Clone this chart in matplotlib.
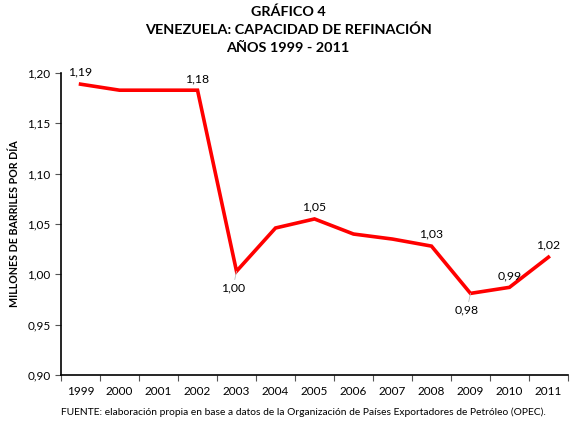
import matplotlib.pyplot as plt

plt.rcParams['font.family'] = ['Lato', 'DejaVu Sans']

anios = ['1999', '2000', '2001', '2002', '2003', '2004', '2005',
         '2006', '2007', '2008', '2009', '2010', '2011']
capacidad = [1.189, 1.183, 1.183, 1.183, 1.003, 1.046, 1.055,
             1.040, 1.035, 1.028, 0.981, 0.987, 1.017]
# etiquetas visibles: indice -> (texto, posicion)
etiquetas = {0: ('1,19', 'arriba'), 3: ('1,18', 'arriba'), 4: ('1,00', 'abajo'),
             6: ('1,05', 'arriba'), 9: ('1,03', 'arriba'), 10: ('0,98', 'abajo'),
             11: ('0,99', 'arriba'), 12: ('1,02', 'arriba')}
yticks = [0.90, 0.95, 1.00, 1.05, 1.10, 1.15, 1.20]

fig = plt.figure(figsize=(5.76, 4.25), dpi=100)
ax = fig.add_axes([0.106, 0.118, 0.880, 0.710])

x = list(range(len(anios)))
ax.plot(x, capacidad, color='#ff0000', linewidth=2.6, solid_joinstyle='miter')

for i, (txt, pos) in etiquetas.items():
    if pos == 'arriba':
        ax.annotate(txt, (i, capacidad[i]), xytext=(0, 4.5), textcoords='offset points',
                    ha='center', va='bottom', fontsize=8.8)
    else:
        ax.annotate(txt, (i, capacidad[i]), xytext=(-2.5, -8), textcoords='offset points',
                    ha='center', va='top', fontsize=8.8,
                    arrowprops=dict(arrowstyle='-', color='#bbbbbb', lw=0.6,
                                    shrinkA=0, shrinkB=0))

ax.set_xlim(-0.5, len(anios) - 0.5)
ax.set_ylim(0.90, 1.20)
ax.set_yticks(yticks)
ax.set_yticklabels([('%.2f' % v).replace('.', ',') for v in yticks], fontsize=8.5)
ax.set_xticks(x)
ax.set_xticklabels(anios, fontsize=8.5)
ax.set_xticks([i - 0.5 for i in range(len(anios) + 1)], minor=True)
ax.tick_params(axis='x', which='major', length=0, pad=8)
ax.tick_params(axis='x', which='minor', length=4, direction='out', width=0.8, color='#555555')
ax.tick_params(axis='y', length=4, direction='out', width=0.8, color='#555555')

for s in ['top', 'right']:
    ax.spines[s].set_visible(False)
ax.spines['left'].set_linewidth(1.2)
ax.spines['bottom'].set_linewidth(1.2)

ax.set_ylabel('MILLONES DE BARRILES POR DÍA', fontsize=7.7, fontweight='bold', labelpad=5)

fig.text(0.5, 0.972, 'GRÁFICO 4', ha='center', va='center', fontsize=10.4, fontweight='bold')
fig.text(0.5, 0.929, 'VENEZUELA: CAPACIDAD DE REFINACIÓN', ha='center', va='center',
         fontsize=10.4, fontweight='bold')
fig.text(0.5, 0.888, 'AÑOS 1999 - 2011', ha='center', va='center', fontsize=10.4, fontweight='bold')
fig.text(0.106, 0.029, 'FUENTE: elaboración propia en base a datos de la Organización de Países '
         'Exportadores de Petróleo (OPEC).', ha='left', va='center', fontsize=7.4)

fig.savefig('out.png', dpi=100, facecolor='white')
